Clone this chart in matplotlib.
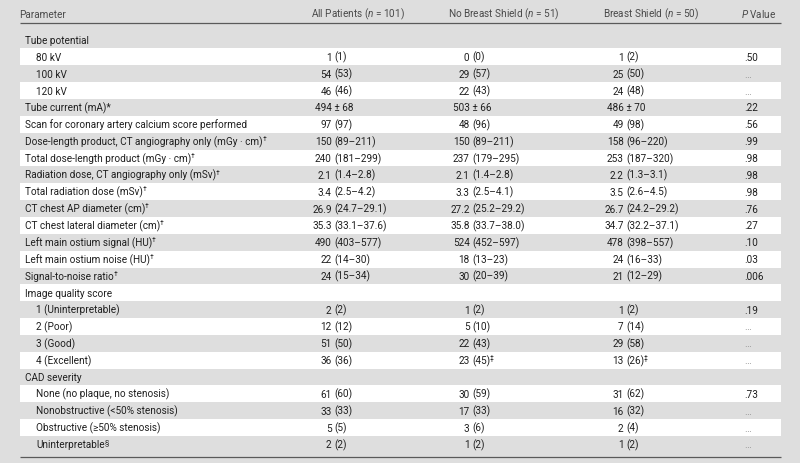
import matplotlib
matplotlib.use("Agg")
import matplotlib.pyplot as plt
from matplotlib.patches import Rectangle

plt.rcParams['font.family'] = ['Roboto', 'DejaVu Sans']
plt.rcParams['mathtext.fontset'] = 'custom'
plt.rcParams['mathtext.rm'] = 'Roboto'
plt.rcParams['mathtext.it'] = 'Roboto:italic'

# --- table content ---
headers = ["Parameter", r"All Patients ($\mathit{n}$ = 101)",
           r"No Breast Shield ($\mathit{n}$ = 51)",
           r"Breast Shield ($\mathit{n}$ = 50)", r"$\mathit{P}$ Value"]

params = ["Tube potential", "80 kV", "100 kV", "120 kV", "Tube current (mA)*",
          "Scan for coronary artery calcium score performed",
          "Dose-length product, CT angiography only (mGy · cm)",
          "Total dose-length product (mGy · cm)",
          "Radiation dose, CT angiography only (mSv)",
          "Total radiation dose (mSv)", "CT chest AP diameter (cm)",
          "CT chest lateral diameter (cm)", "Left main ostium signal (HU)",
          "Left main ostium noise (HU)", "Signal-to-noise ratio",
          "Image quality score", "1 (Uninterpretable)", "2 (Poor)", "3 (Good)",
          "4 (Excellent)", "CAD severity", "None (no plaque, no stenosis)",
          "Nonobstructive (<50% stenosis)", "Obstructive (≥50% stenosis)",
          "Uninterpretable"]
param_marks = ["", "", "", "", "", "", "†", "†", "†", "†", "†", "†", "†", "†", "†",
               "", "", "", "", "", "", "", "", "", "§"]
indent = [0, 1, 1, 1, 0, 0, 0, 0, 0, 0, 0, 0, 0, 0, 0,
          0, 1, 1, 1, 1, 0, 1, 1, 1, 1]

all_pts = ["", "1 (1)", "54 (53)", "46 (46)", "494 ± 68", "97 (97)", "150 (89–211)",
           "240 (181–299)", "2.1 (1.4–2.8)", "3.4 (2.5–4.2)", "26.9 (24.7–29.1)",
           "35.3 (33.1–37.6)", "490 (403–577)", "22 (14–30)", "24 (15–34)", "",
           "2 (2)", "12 (12)", "51 (50)", "36 (36)", "", "61 (60)", "33 (33)",
           "5 (5)", "2 (2)"]
no_shield = ["", "0 (0)", "29 (57)", "22 (43)", "503 ± 66", "48 (96)", "150 (89–211)",
             "237 (179–295)", "2.1 (1.4–2.8)", "3.3 (2.5–4.1)", "27.2 (25.2–29.2)",
             "35.8 (33.7–38.0)", "524 (452–597)", "18 (13–23)", "30 (20–39)", "",
             "1 (2)", "5 (10)", "22 (43)", "23 (45)", "", "30 (59)", "17 (33)",
             "3 (6)", "1 (2)"]
shield = ["", "1 (2)", "25 (50)", "24 (48)", "486 ± 70", "49 (98)", "158 (96–220)",
          "253 (187–320)", "2.2 (1.3–3.1)", "3.5 (2.6–4.5)", "26.7 (24.2–29.2)",
          "34.7 (32.2–37.1)", "478 (398–557)", "24 (16–33)", "21 (12–29)", "",
          "1 (2)", "7 (14)", "29 (58)", "13 (26)", "", "31 (62)", "16 (32)",
          "2 (4)", "1 (2)"]
value_marks = ["", "", "", "", "", "", "", "", "", "", "", "", "", "", "",
               "", "", "", "", "‡", "", "", "", "", ""]
p_values = ["", ".50", "…", "…", ".22", ".56", ".99", ".98", ".98", ".98", ".76",
            ".27", ".10", ".03", ".006", "", ".19", "…", "…", "…", "", ".73",
            "…", "…", "…"]

# --- layout (pixel units) ---
W, H = 800, 463
bg = '#dedede'
txt = '#1f1f1f'
x0, x1 = 19.5, 781
row_top, row_h = 31.6, 16.85
col_anchor = [334, 472, 626]   # x of the opening parenthesis
p_x = 744

fig = plt.figure(figsize=(W / 100, H / 100), dpi=100, facecolor=bg)
ax = fig.add_axes([0, 0, 1, 1])
ax.set_xlim(0, W)
ax.set_ylim(H, 0)
ax.axis('off')
ax.set_facecolor(bg)
renderer = fig.canvas.get_renderer()

# pick the font size so a long label is as wide as in the original (~222 px)
probe = ax.text(0, 0, params[5], fontsize=10)
fs = 10 * 222 / probe.get_window_extent(renderer).width
probe.remove()
sup_fs = fs * 0.68


def put(x, y, s, ha='left', color=txt, mark=""):
    t = ax.text(x, y, s, ha=ha, va='baseline', fontsize=fs, color=color)
    if mark:
        xe = t.get_window_extent(renderer).x1
        ax.text(xe - 0.4, y - 4.3, mark, ha='left', va='baseline',
                fontsize=sup_fs, color=color)
    return t


def value_cell(x, y, s, mark=""):
    if not s:
        return
    if " (" in s:
        left, right = s.split(" (", 1)
        put(x - 2.4, y, left, ha='right')
        put(x, y, "(" + right, mark=mark)
    else:
        put(x, y, s, ha='center')


# header
hy = 17.8
hc = '#4a4a4a'
put(x0, hy, headers[0], color=hc)
for xc, h in zip([358, 503.5, 651.5], headers[1:4]):
    put(xc, hy, h, ha='center', color=hc)
put(776, hy, headers[4], ha='right', color=hc)
ax.plot([x0, x1], [23.3, 23.3], color='#5a5a5a', lw=0.9, solid_capstyle='butt')

# rows
for i, name in enumerate(params):
    top = row_top + i * row_h
    if i % 2 == 1:
        ax.add_patch(Rectangle((x0, top), x1 - x0, row_h, facecolor='white',
                               edgecolor='none'))
    y = top + row_h / 2 + 4.0
    put(36 if indent[i] else 25, y, name, mark=param_marks[i])
    for xa, col in zip(col_anchor, [all_pts, no_shield, shield]):
        value_cell(xa, y, col[i], value_marks[i] if col is not all_pts else "")
    pv = p_values[i]
    if pv:
        put(p_x, y, pv, color='#8a8a8a' if pv == "…" else txt)

ax.plot([x0, x1], [456.5, 456.5], color='#5a5a5a', lw=0.9, solid_capstyle='butt')

fig.savefig('out.png', dpi=100, facecolor=bg)
